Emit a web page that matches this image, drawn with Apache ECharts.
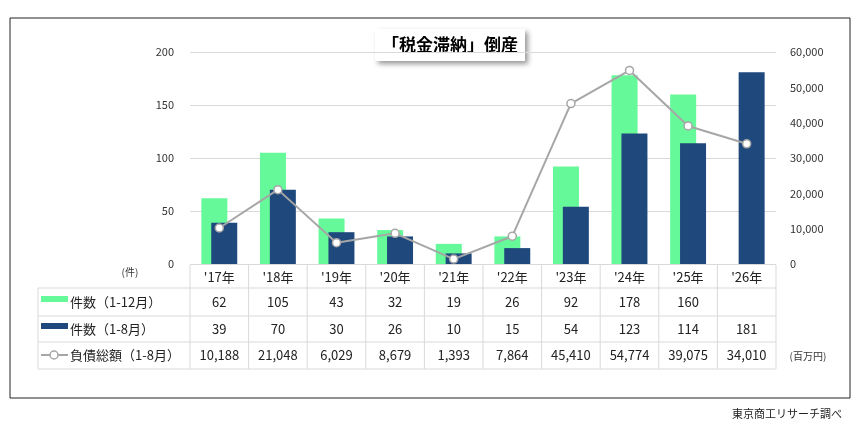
<!DOCTYPE html><html><head><meta charset="utf-8">
<script src="https://cdn.jsdelivr.net/npm/echarts@6/dist/echarts.min.js"></script>
<style>html,body{margin:0;background:#fff}#c{width:856px;height:434px}</style></head><body><div id="c"></div>
<script>
const categories=["'17年","'18年","'19年","'20年","'21年","'22年","'23年","'24年","'25年","'26年"];
const full=[62,105,43,32,19,26,92,178,160,null];
const jan_aug=[39,70,30,26,10,15,54,123,114,181];
const debt=[10188,21048,6029,8679,1393,7864,45410,54774,39075,34010];
const names=['件数（1-12月）','件数（1-8月）','負債総額（1-8月）'];
const G='#66f99a',N='#1f497d',L='#a6a6a6';
const F='"Noto Sans CJK JP",sans-serif';
const chart=echarts.init(document.getElementById('c'));
const gL=190,gR=776,gT=52,gB=264;
const cw=(gR-gL)/categories.length;
const rows=[[265,288],[288,316],[316,342],[342,369]];
const g=[];
g.push({type:'rect',shape:{x:10,y:18,width:840,height:380},style:{fill:'none',stroke:'#222',lineWidth:1}});
g.push({type:'rect',shape:{x:375,y:29,width:150,height:32},style:{fill:'#fff',shadowBlur:5,shadowOffsetX:3,shadowOffsetY:3,shadowColor:'rgba(0,0,0,0.4)'}});
g.push({type:'text',style:{x:450,y:45,text:'「税金滞納」倒産',font:'bold 17px '+F,fill:'#000',align:'center',verticalAlign:'middle'}});
const tl=38;
[288,316,342,369].forEach(y=>g.push({type:'line',shape:{x1:tl,y1:y,x2:gR,y2:y},style:{stroke:'#d9d9d9'}}));
g.push({type:'line',shape:{x1:tl,y1:288,x2:tl,y2:369},style:{stroke:'#d9d9d9'}});
for(let i=0;i<=categories.length;i++){const x=gL+i*cw;g.push({type:'line',shape:{x1:x,y1:265,x2:x,y2:369},style:{stroke:'#d9d9d9'}});}
g.push({type:'text',style:{x:130,y:272,text:'(件)',font:'10px '+F,fill:'#333',align:'center',verticalAlign:'middle'}});
categories.forEach((c,i)=>g.push({type:'text',style:{x:gL+(i+.5)*cw,y:277,text:c,font:'13px '+F,fill:'#222',align:'center',verticalAlign:'middle'}}));
const fmt=v=>v==null?'':v.toLocaleString('en-US');
[full,jan_aug,debt].forEach((arr,r)=>{const yc=(rows[r+1][0]+rows[r+1][1])/2;
 arr.forEach((v,i)=>g.push({type:'text',style:{x:gL+(i+.5)*cw,y:yc,text:fmt(v),font:'13px '+F,fill:'#222',align:'center',verticalAlign:'middle'}}));
 g.push({type:'text',style:{x:70,y:yc,text:names[r],font:'13px '+F,fill:'#222',verticalAlign:'middle'}});
});
g.push({type:'rect',shape:{x:41,y:296,width:27,height:6},style:{fill:G}});
g.push({type:'rect',shape:{x:41,y:323,width:27,height:6},style:{fill:N}});
g.push({type:'line',shape:{x1:41,y1:355,x2:68,y2:355},style:{stroke:L,lineWidth:2}});
g.push({type:'circle',shape:{cx:54,cy:355,r:4},style:{fill:'#fff',stroke:L,lineWidth:1.5}});
g.push({type:'text',style:{x:808,y:356,text:'(百万円)',font:'10px '+F,fill:'#333',align:'center',verticalAlign:'middle'}});
g.push({type:'text',style:{x:842,y:414,text:'東京商工リサーチ調べ',font:'11px '+F,fill:'#222',align:'right',verticalAlign:'middle'}});
chart.setOption({
 animation:false,
 grid:{left:gL,right:856-gR,top:gT,bottom:434-gB},
 xAxis:{type:'category',data:categories,axisLabel:{show:false},axisTick:{show:false},axisLine:{show:false}},
 yAxis:[{type:'value',min:0,max:200,interval:50,axisLabel:{color:'#333',fontSize:11,fontFamily:F,margin:16},splitLine:{lineStyle:{color:'#d9d9d9'}}},
 {type:'value',min:0,max:60000,interval:10000,axisLabel:{color:'#333',fontSize:11,fontFamily:F,margin:14,formatter:v=>v.toLocaleString('en-US')},splitLine:{show:false}}],
 series:[
  {type:'bar',data:full,barWidth:26,barGap:'-62%',itemStyle:{color:G}},
  {type:'bar',data:jan_aug,barWidth:26,barGap:'-62%',itemStyle:{color:N}},
  {type:'line',yAxisIndex:1,data:debt,symbol:'circle',symbolSize:8,itemStyle:{color:'#fff',borderColor:L,borderWidth:1.5},lineStyle:{color:L,width:2}}
 ],
 graphic:g
});
</script></body></html>
